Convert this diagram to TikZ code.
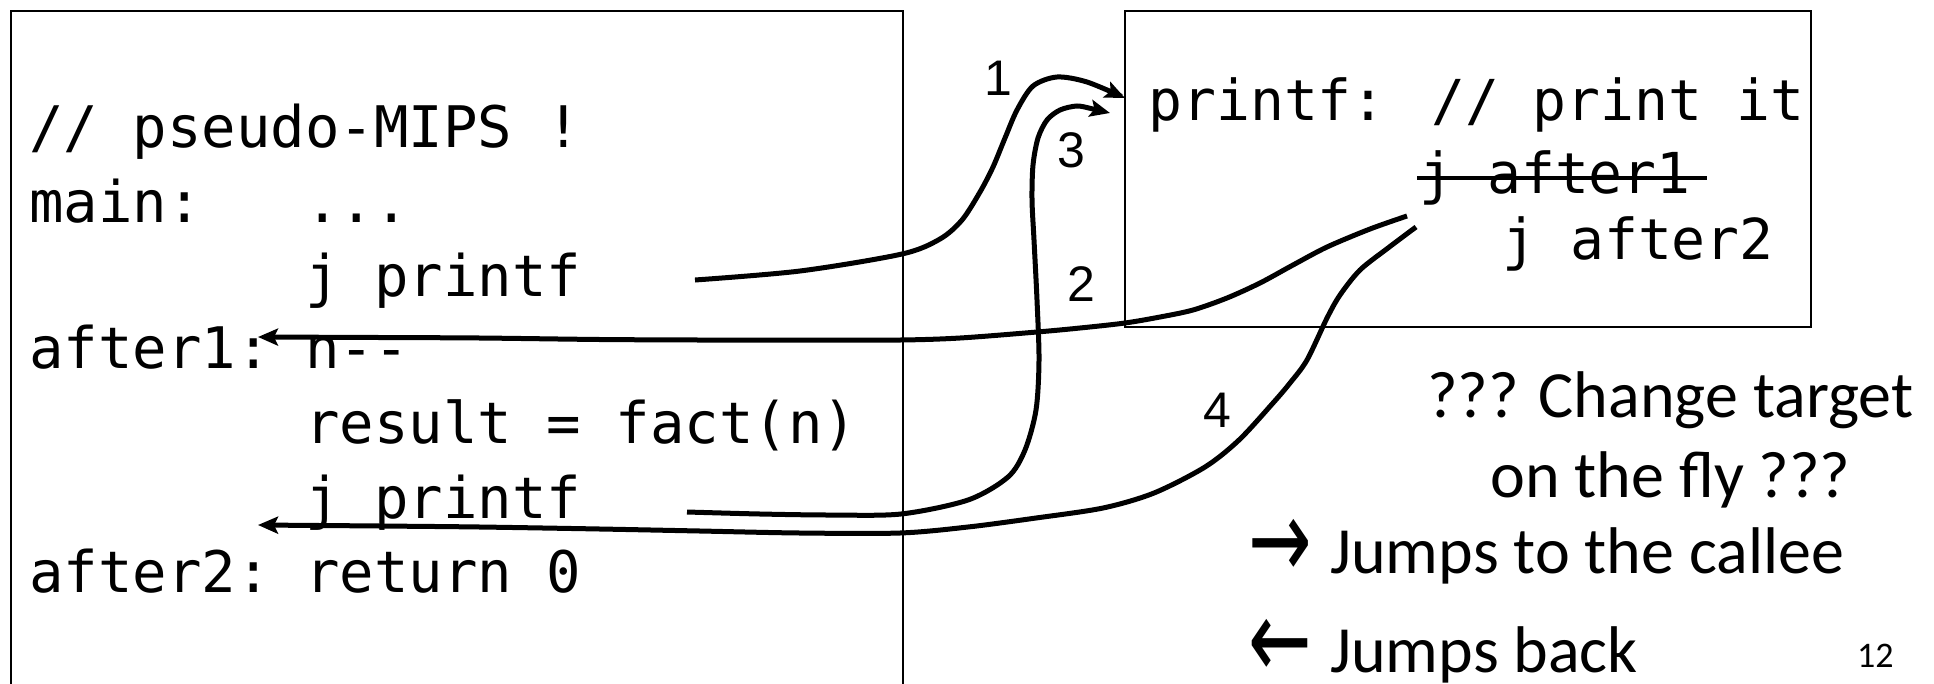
\documentclass[tikz,border=0pt]{standalone}
\usepackage{fontspec}
\newfontfamily\codefont{DejaVu Sans Mono}[Ligatures=TeXOff]
\newfontfamily\calfont{Carlito}
\newfontfamily\numfont{Liberation Sans}
\newfontfamily\symfont{DejaVu Sans}
\usetikzlibrary{arrows.meta}
\begin{document}
\begin{tikzpicture}[x=1pt,y=-1pt,
  code/.style={font=\codefont\fontsize{57.3}{70}\selectfont, inner sep=0pt, anchor=base west},
  pcode/.style={font=\codefont\fontsize{56.4}{70}\selectfont, inner sep=0pt, anchor=base west},
  lbl/.style={font=\numfont\fontsize{50}{54}\selectfont, inner sep=0pt},
  note/.style={font=\calfont\fontsize{66}{76}\selectfont, inner sep=0pt, anchor=base west},
  arrsym/.style={font=\symfont\fontsize{66}{70}\selectfont, inner sep=0pt},
  box/.style={draw=black, line width=2pt},
  jump/.style={line width=5pt},
  tip/.style={-{Stealth[length=20pt,width=17pt,inset=4pt]}}
]
\useasboundingbox (0,0) rectangle (1934,683);
\fill[white] (0,0) rectangle (1934,683);

% boxes
\draw[box] (11,700) -- (11,11) -- (903,11) -- (903,700);
\draw[box] (1125,11) rectangle (1811,327);

% main code
\node[code] (c1) at (29,147) {// pseudo-MIPS !};
\node[code] (c2) at (29,222) {main:~~~...};
\node[code] (c3) at (29,296) {~~~~~~~~j printf};
\node[code] (c4) at (29,368) {after1:~n--};
\node[code] (c5) at (29,443) {~~~~~~~~result = fact(n)};
\node[code] (c6) at (29,518) {~~~~~~~~j printf};
\node[code] (c7) at (29,592) {after2:~return 0};

% printf code
\node[pcode] (p1) at (1148,120) {printf: // print it};
\node[pcode] (p2) at (1419,193) {j after1};
\node[pcode] (p3) at (1502,259) {j after2};
\draw[line width=4pt] (1417,178) -- (1707,178);

% step labels
\node[lbl] (n1) at (998,78) {1};
\node[lbl] (n3) at (1071,150) {3};
\node[lbl] (n2) at (1081,284) {2};
\node[lbl] (n4) at (1217,410) {4};

% notes
\node[note] (q1) at (1427,417) {??? Change target};
\node[note] (q2) at (1490,497) {on the fly ???};
\node[arrsym] (a1) at (1280,549) {\scalebox{1.15}[1.7]{→}};
\node[note] (t1) at (1330,573) {Jumps to the callee};
\node[arrsym] (a2) at (1280,649) {\scalebox{1.15}[1.7]{←}};
\node[note] (t2) at (1330,672) {Jumps back};
\node[font=\calfont\fontsize{36}{36}\selectfont, inner sep=0pt, anchor=base west] (pg) at (1857,667) {12};

% connector end points
\coordinate (s1) at (695,280);  \coordinate (e1) at (1125,98);
\coordinate (s3) at (687,512);  \coordinate (e3) at (1110,113);
\coordinate (s2) at (1407,216); \coordinate (e2) at (258,337);
\coordinate (s4) at (1416,227); \coordinate (e4) at (258,525);

% 1: j printf -> printf
\draw[jump,tip] plot[smooth, tension=0.5] coordinates {(s1) (800,271) (902,254) (940,239) (962,220) (980,192) (993,167) (1005,138) (1017,110) (1033,86) (1057,77) (1087,82) (e1)};
% 3: second j printf -> printf
\draw[jump,tip] plot[smooth, tension=0.5] coordinates {(s3) (760,514) (830,515) (901,514) (968,500) (1008,477) (1025,450) (1036,410) (1039,360) (1037,300) (1034,240) (1032,200) (1033,165) (1038,138) (1047,120) (1060,110) (1077,106) (1093,109) (e3)};
% 2: j after1 -> after1
\draw[jump,tip] plot[smooth, tension=0.5] coordinates {(s2) (1370,229) (1327,247) (1293,265) (1260,283) (1227,298) (1193,310) (1160,317) (1125,323) (1080,328) (1037,332) (960,338) (900,340) (800,340) (700,340) (600,339.5) (480,338) (380,337.5) (e2)};
% 4: j after2 -> after2
\draw[jump,tip] plot[smooth, tension=0.5] coordinates {(s4) (1388,248) (1360,270) (1340,295) (1327,318) (1307,360) (1290,383) (1273,403) (1239,440) (1205,467) (1154,493) (1103,508) (1036,518) (968,527) (900,533) (800,533) (700,531) (600,529) (480,527) (380,526) (e4)};
\end{tikzpicture}
\end{document}
